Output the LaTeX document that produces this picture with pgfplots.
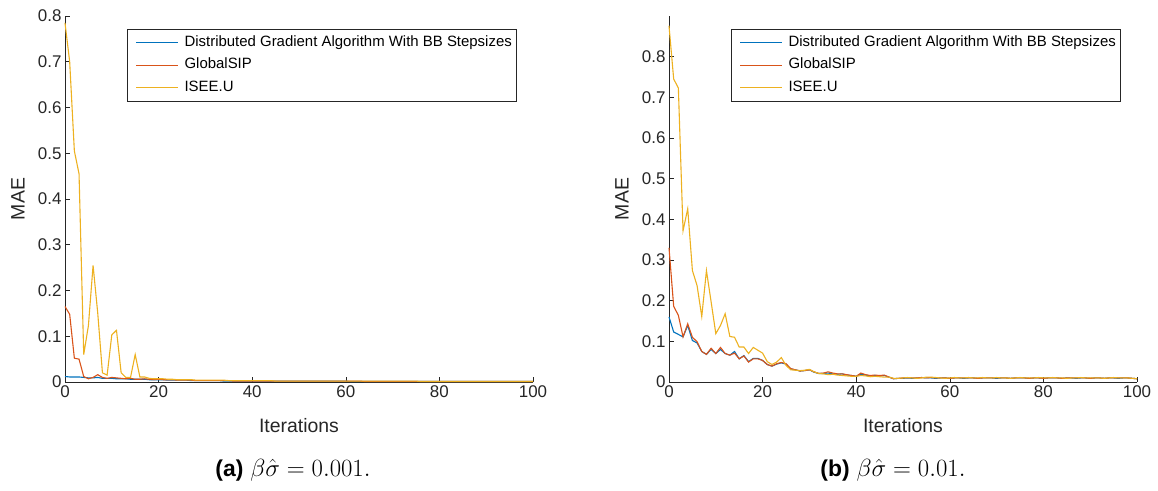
\documentclass[border=0pt]{standalone}
\usepackage{fontspec}
\setmainfont{Liberation Sans}
\usepackage{pgfplots}
\usepackage{pgfplotstable}
\pgfplotsset{compat=1.18}
\definecolor{mblue}{rgb}{0,0.447,0.741}
\definecolor{mred}{rgb}{0.850,0.325,0.098}
\definecolor{myel}{rgb}{0.929,0.694,0.125}
\definecolor{axgray}{rgb}{0.15,0.15,0.15}

% left panel: x, distributed BB, GlobalSIP, ISEE.U
\pgfplotstableread{
x dg gs isee
0 0.012 0.165 0.785
1 0.011 0.148 0.700
2 0.011 0.052 0.505
3 0.011 0.050 0.455
4 0.010 0.012 0.060
5 0.009 0.007 0.123
6 0.009 0.010 0.255
7 0.010 0.016 0.150
8 0.008 0.010 0.020
9 0.008 0.008 0.015
10 0.008 0.010 0.103
11 0.007 0.009 0.113
12 0.007 0.008 0.020
13 0.007 0.007 0.010
14 0.006 0.008 0.010
15 0.006 0.006 0.060
16 0.006 0.006 0.011
17 0.006 0.007 0.011
18 0.005 0.006 0.008
19 0.005 0.005 0.007
20 0.005 0.006 0.007
21 0.005 0.005 0.007
22 0.004 0.005 0.006
23 0.004 0.005 0.006
24 0.004 0.004 0.005
25 0.004 0.004 0.005
26 0.004 0.004 0.005
27 0.003 0.004 0.005
28 0.003 0.003 0.004
29 0.003 0.003 0.004
30 0.003 0.003 0.004
31 0.003 0.003 0.004
32 0.003 0.003 0.004
33 0.003 0.003 0.004
34 0.002 0.003 0.004
35 0.002 0.003 0.003
36 0.002 0.002 0.003
37 0.002 0.002 0.003
38 0.002 0.002 0.003
39 0.002 0.002 0.003
40 0.002 0.002 0.003
41 0.002 0.002 0.003
42 0.002 0.002 0.003
43 0.002 0.002 0.003
44 0.002 0.002 0.003
45 0.002 0.002 0.002
46 0.002 0.002 0.002
47 0.002 0.002 0.002
48 0.002 0.002 0.002
49 0.002 0.002 0.002
50 0.002 0.002 0.002
51 0.002 0.002 0.002
52 0.002 0.002 0.002
53 0.002 0.002 0.002
54 0.002 0.002 0.002
55 0.002 0.002 0.002
56 0.002 0.002 0.002
57 0.002 0.002 0.002
58 0.002 0.002 0.002
59 0.002 0.002 0.002
60 0.002 0.002 0.002
61 0.001 0.002 0.002
62 0.001 0.002 0.002
63 0.001 0.002 0.002
64 0.001 0.001 0.002
65 0.001 0.001 0.002
66 0.001 0.001 0.002
67 0.001 0.001 0.002
68 0.001 0.001 0.002
69 0.001 0.001 0.002
70 0.001 0.001 0.002
71 0.001 0.001 0.002
72 0.001 0.001 0.002
73 0.001 0.001 0.002
74 0.001 0.001 0.002
75 0.001 0.001 0.002
76 0.001 0.001 0.001
77 0.001 0.001 0.001
78 0.001 0.001 0.001
79 0.001 0.001 0.001
80 0.001 0.001 0.001
81 0.001 0.001 0.001
82 0.001 0.001 0.001
83 0.001 0.001 0.001
84 0.001 0.001 0.001
85 0.001 0.001 0.001
86 0.001 0.001 0.001
87 0.001 0.001 0.001
88 0.001 0.001 0.001
89 0.001 0.001 0.001
90 0.001 0.001 0.001
91 0.001 0.001 0.001
92 0.001 0.001 0.001
93 0.001 0.001 0.001
94 0.001 0.001 0.001
95 0.001 0.001 0.001
96 0.001 0.001 0.001
97 0.001 0.001 0.001
98 0.001 0.001 0.001
99 0.001 0.001 0.001
100 0.001 0.001 0.001
}\dataA

% right panel
\pgfplotstableread{
x dg gs isee
0 0.160 0.330 0.876
1 0.123 0.186 0.745
2 0.117 0.164 0.723
3 0.111 0.111 0.372
4 0.139 0.143 0.426
5 0.102 0.110 0.274
6 0.096 0.099 0.237
7 0.075 0.075 0.161
8 0.068 0.068 0.274
9 0.080 0.083 0.197
10 0.070 0.070 0.119
11 0.080 0.085 0.139
12 0.070 0.070 0.168
13 0.066 0.066 0.112
14 0.075 0.071 0.110
15 0.057 0.057 0.086
16 0.065 0.064 0.086
17 0.050 0.049 0.070
18 0.058 0.057 0.085
19 0.058 0.057 0.078
20 0.053 0.053 0.071
21 0.043 0.043 0.050
22 0.039 0.039 0.043
23 0.044 0.045 0.049
24 0.047 0.048 0.060
25 0.044 0.045 0.041
26 0.032 0.033 0.030
27 0.030 0.030 0.029
28 0.027 0.027 0.028
29 0.028 0.028 0.029
30 0.030 0.030 0.031
31 0.024 0.025 0.025
32 0.021 0.021 0.021
33 0.021 0.022 0.020
34 0.022 0.025 0.018
35 0.020 0.022 0.019
36 0.019 0.020 0.017
37 0.020 0.020 0.016
38 0.017 0.018 0.015
39 0.016 0.016 0.014
40 0.014 0.014 0.014
41 0.019 0.022 0.016
42 0.017 0.018 0.015
43 0.015 0.016 0.013
44 0.016 0.017 0.014
45 0.015 0.016 0.013
46 0.016 0.017 0.012
47 0.012 0.012 0.012
48 0.008 0.008 0.009
49 0.009 0.009 0.009
50 0.009 0.010 0.010
51 0.010 0.010 0.011
52 0.009 0.010 0.010
53 0.010 0.010 0.009
54 0.011 0.011 0.010
55 0.010 0.010 0.012
56 0.010 0.011 0.012
57 0.009 0.010 0.011
58 0.010 0.010 0.010
59 0.010 0.010 0.009
60 0.009 0.009 0.010
61 0.010 0.010 0.011
62 0.010 0.010 0.010
63 0.009 0.010 0.010
64 0.010 0.010 0.011
65 0.010 0.010 0.010
66 0.009 0.009 0.010
67 0.010 0.010 0.011
68 0.010 0.010 0.010
69 0.010 0.010 0.010
70 0.009 0.010 0.011
71 0.010 0.010 0.010
72 0.010 0.010 0.010
73 0.009 0.009 0.009
74 0.010 0.010 0.010
75 0.010 0.010 0.011
76 0.010 0.010 0.010
77 0.009 0.009 0.010
78 0.010 0.010 0.010
79 0.010 0.010 0.011
80 0.009 0.009 0.010
81 0.010 0.010 0.010
82 0.010 0.010 0.011
83 0.010 0.010 0.010
84 0.009 0.009 0.010
85 0.010 0.010 0.009
86 0.010 0.010 0.010
87 0.009 0.010 0.010
88 0.010 0.010 0.011
89 0.010 0.010 0.010
90 0.009 0.009 0.010
91 0.010 0.010 0.010
92 0.010 0.010 0.010
93 0.009 0.009 0.009
94 0.010 0.010 0.010
95 0.010 0.010 0.011
96 0.009 0.010 0.010
97 0.010 0.010 0.010
98 0.010 0.010 0.010
99 0.009 0.009 0.009
100 0.008 0.008 0.008
}\dataB

\pgfplotsset{
  legend image code/.code={%
    \path (0bp,0bp) (52bp,0bp);
    \draw[#1, line width=1.3bp] (6bp,0bp) -- (48bp,0bp);},
  matlabaxis/.style={
    scale only axis, width=468bp, height=366bp,
    axis lines=left, axis line style={-, draw=axgray, line width=0.6bp},
    tick align=inside, major tick length=5bp,
    tick style={draw=axgray, line width=0.6bp},
    xmin=0, xmax=100, xtick={0,20,...,100}, ymin=0,
    /pgf/number format/assume math mode=true,
    ticklabel style={font=\fontsize{17}{19}\selectfont, text=axgray},
    yticklabel style={/pgf/number format/fixed},
    xlabel={Iterations}, ylabel={MAE},
    label style={font=\fontsize{19.5}{22}\selectfont, text=axgray},
    xlabel style={at={(axis description cs:0.5,-0.120)}, anchor=center},
    ylabel style={at={(axis description cs:-0.1004,0.5)}, anchor=center},
    legend style={at={(axis description cs:0.1331,0.9637)}, anchor=north west,
      draw=axgray, font=\fontsize{15}{17}\selectfont,
      inner sep=2bp, row sep=0bp,
      nodes={text height=11bp, text depth=3.5bp, inner ysep=4bp}},
    legend cell align=left,
    every axis plot/.append style={line width=1.1bp},
    clip=false,
  }
}

\begin{document}
\begin{tikzpicture}
\useasboundingbox (0bp,0bp) rectangle (1158bp,491bp);
\begin{axis}[matlabaxis, at={(65bp,109bp)}, anchor=south west,
  ymax=0.8, ytick={0,0.1,...,0.8}]
\addplot[mblue] table[x=x,y=dg]{\dataA};
\addlegendentry{Distributed Gradient Algorithm With BB Stepsizes}
\addplot[mred] table[x=x,y=gs]{\dataA};
\addlegendentry{GlobalSIP}
\addplot[myel] table[x=x,y=isee]{\dataA};
\addlegendentry{ISEE.U}
\end{axis}
\begin{axis}[matlabaxis, at={(669bp,109bp)}, anchor=south west,
  ymax=0.9, ytick={0,0.1,...,0.8}]
\addplot[mblue] table[x=x,y=dg]{\dataB};
\addlegendentry{Distributed Gradient Algorithm With BB Stepsizes}
\addplot[mred] table[x=x,y=gs]{\dataB};
\addlegendentry{GlobalSIP}
\addplot[myel] table[x=x,y=isee]{\dataB};
\addlegendentry{ISEE.U}
\end{axis}
\node[font=\fontsize{23}{26}\selectfont, anchor=center] at (293bp,21bp) {\textbf{(a)}\hspace{0.3em}$\beta\hat{\sigma}=0.001.$};
\node[font=\fontsize{23}{26}\selectfont, anchor=center] at (893bp,21bp) {\textbf{(b)}\hspace{0.3em}$\beta\hat{\sigma}=0.01.$};
\end{tikzpicture}
\end{document}
